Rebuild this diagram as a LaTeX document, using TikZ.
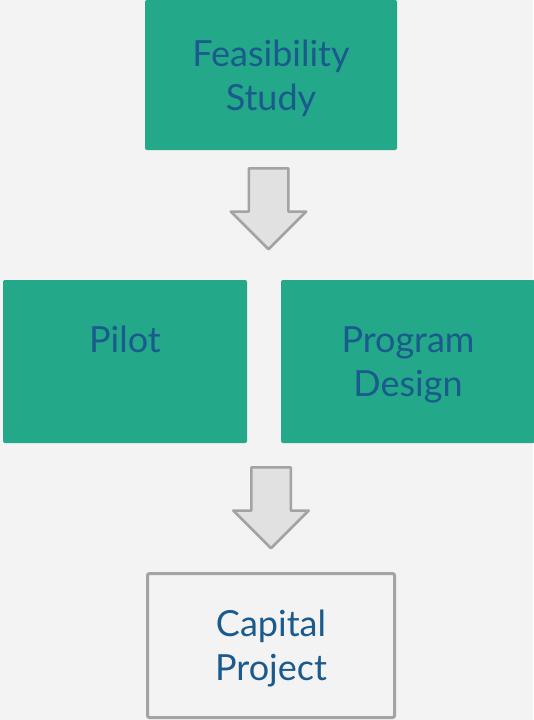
\documentclass[tikz,border=0pt]{standalone}
\usepackage{fontspec}
\setmainfont{Lato}
\usetikzlibrary{shapes.arrows}
\definecolor{pagebg}{HTML}{F3F3F3}
\definecolor{stageteal}{HTML}{23A88A}
\definecolor{stagetext}{HTML}{1B5A8C}
\definecolor{arrowfill}{HTML}{E1E1E1}
\definecolor{edgegray}{HTML}{A3A3A3}
\tikzset{
  stage/.style={rectangle, rounded corners=2pt, fill=stageteal, text=stagetext,
    align=center, inner sep=0pt, text depth=0pt, font=\fontsize{36}{44}\selectfont},
  finalstage/.style={stage, fill=pagebg, draw=edgegray, line width=3pt},
  downarrow/.style={single arrow, rotate=-90, anchor=tail, fill=arrowfill, draw=edgegray,
    line width=2.5pt, line join=round, inner xsep=0pt, inner ysep=18.5pt,
    single arrow head extend=18pt, single arrow tip angle=90,
    minimum height=81pt}
}
\begin{document}
\begin{tikzpicture}[x=1pt, y=-1pt]
  \fill[pagebg] (0,0) rectangle (533,720);
  \useasboundingbox (0,0) rectangle (533,720);
          \node[stage, minimum width=252pt, minimum height=150pt] (feas) at (271,75) {Feasibility\\Study};
          \node[downarrow] (arr1) at (268.5,167) {};
          \node[stage, minimum width=244pt, minimum height=163pt] (pilot) at (125,361.5) {Pilot\\\phantom{Design}};
          \node[stage, minimum width=254pt, minimum height=163pt] (design) at (408,361.5) {Program\\Design};
          \node[downarrow] (arr2) at (271,466) {};
          \node[finalstage, minimum width=247pt, minimum height=144pt] (capital) at (271,645.5) {Capital\\Project};
        \end{tikzpicture}
\end{document}
